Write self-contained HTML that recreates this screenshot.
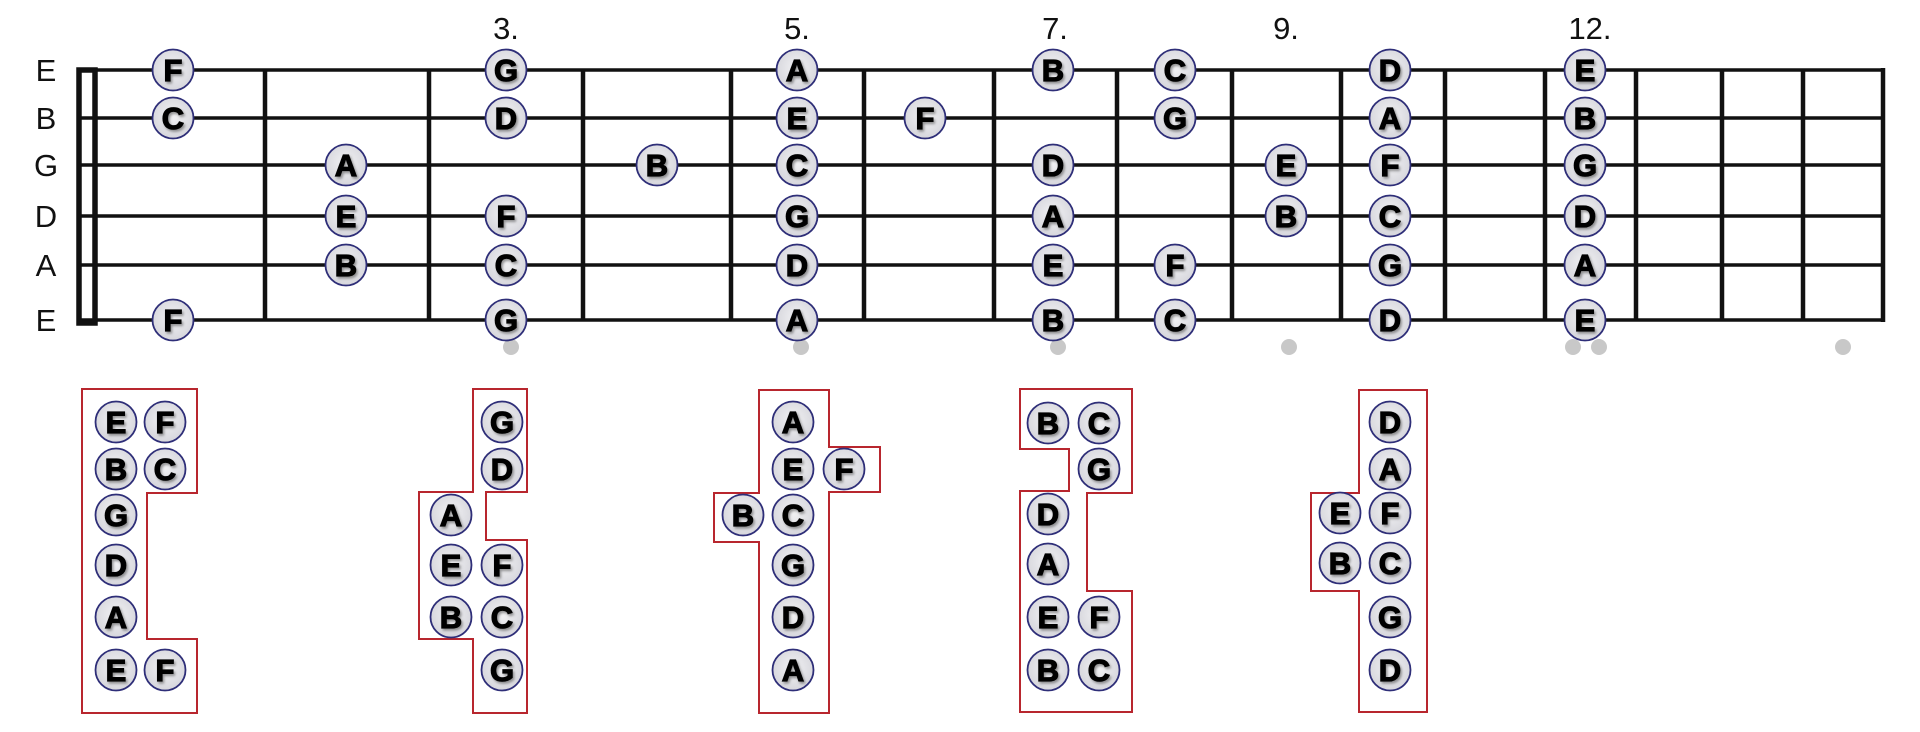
<!DOCTYPE html>
<html><head><meta charset="utf-8"><style>
html,body{margin:0;padding:0;background:#fff;}
svg{display:block;}
.lbl{font-family:"Liberation Sans",Arial,sans-serif;font-size:31px;fill:#111;}
.n{font-family:"Liberation Sans",Arial,sans-serif;font-weight:bold;font-size:31px;fill:#000;stroke:#000;stroke-width:1.2;text-anchor:middle;}
</style></head><body>
<svg width="1920" height="732" viewBox="0 0 1920 732" xmlns="http://www.w3.org/2000/svg">
<defs>
<radialGradient id="g" cx="50%" cy="45%" r="55%"><stop offset="0" stop-color="#f2f2f4"/><stop offset="1" stop-color="#d6d6dc"/></radialGradient>
<filter id="sh" x="-30%" y="-30%" width="160%" height="160%"><feDropShadow dx="1.5" dy="2" stdDeviation="1.2" flood-color="#555" flood-opacity="0.6"/></filter>
</defs>
<g class="lbl" text-anchor="middle">
<text x="46" y="81">E</text><text x="46" y="129">B</text><text x="46" y="176">G</text>
<text x="46" y="227">D</text><text x="46" y="276">A</text><text x="46" y="331">E</text>
</g>
<g class="lbl" text-anchor="middle">
<text x="506" y="39">3.</text><text x="797" y="39">5.</text><text x="1055" y="39">7.</text>
<text x="1286" y="39">9.</text><text x="1590" y="39">12.</text>
</g>
<g stroke="#111" stroke-width="3.5">
<line x1="78" y1="70" x2="1883" y2="70"/><line x1="78" y1="118" x2="1883" y2="118"/>
<line x1="78" y1="165" x2="1883" y2="165"/><line x1="78" y1="216" x2="1883" y2="216"/>
<line x1="78" y1="265" x2="1883" y2="265"/><line x1="78" y1="320" x2="1883" y2="320"/>
</g>
<rect x="79" y="70" width="16" height="253" fill="none" stroke="#111" stroke-width="5.5"/>
<g stroke="#111" stroke-width="4.5">
<line x1="265" y1="70" x2="265" y2="320"/><line x1="429" y1="70" x2="429" y2="320"/>
<line x1="583" y1="70" x2="583" y2="320"/><line x1="731" y1="70" x2="731" y2="320"/>
<line x1="864" y1="70" x2="864" y2="320"/><line x1="994" y1="70" x2="994" y2="320"/>
<line x1="1117" y1="70" x2="1117" y2="320"/><line x1="1232" y1="70" x2="1232" y2="320"/>
<line x1="1341" y1="70" x2="1341" y2="320"/><line x1="1445" y1="70" x2="1445" y2="320"/>
<line x1="1545" y1="70" x2="1545" y2="320"/><line x1="1636" y1="70" x2="1636" y2="320"/>
<line x1="1722" y1="70" x2="1722" y2="320"/><line x1="1803" y1="70" x2="1803" y2="320"/>
<line x1="1883" y1="68" x2="1883" y2="322"/>
</g>
<g fill="#c8c8c8">
<circle cx="511" cy="347" r="8"/><circle cx="801" cy="347" r="8"/><circle cx="1058" cy="347" r="8"/>
<circle cx="1289" cy="347" r="8"/><circle cx="1573" cy="347" r="8"/><circle cx="1599" cy="347" r="8"/>
<circle cx="1843" cy="347" r="8"/>
</g>
<g fill="none" stroke="#b8262e" stroke-width="2">
<polygon points="82,389 197,389 197,493 147,493 147,639 197,639 197,713 82,713"/>
<polygon points="473,389 527,389 527,492 486,492 486,540 527,540 527,713 473,713 473,639 419,639 419,492 473,492"/>
<polygon points="759,390 829,390 829,447 880,447 880,492 829,492 829,713 759,713 759,542 714,542 714,493 759,493"/>
<polygon points="1020,389 1132,389 1132,493 1087,493 1087,591 1132,591 1132,712 1020,712 1020,491 1069,491 1069,449 1020,449"/>
<polygon points="1359,390 1427,390 1427,712 1359,712 1359,591 1311,591 1311,493 1359,493"/>
</g>
<g id="notes"></g>
</svg>
<script>
var N=[
[173,70,'F'],[173,118,'C'],[173,320,'F'],
[346,165,'A'],[346,216,'E'],[346,265,'B'],
[506,70,'G'],[506,118,'D'],[506,216,'F'],[506,265,'C'],[506,320,'G'],
[657,165,'B'],
[797,70,'A'],[797,118,'E'],[797,165,'C'],[797,216,'G'],[797,265,'D'],[797,320,'A'],
[925,118,'F'],
[1053,70,'B'],[1053,165,'D'],[1053,216,'A'],[1053,265,'E'],[1053,320,'B'],
[1175,70,'C'],[1175,118,'G'],[1175,265,'F'],[1175,320,'C'],
[1286,165,'E'],[1286,216,'B'],
[1390,70,'D'],[1390,118,'A'],[1390,165,'F'],[1390,216,'C'],[1390,265,'G'],[1390,320,'D'],
[1585,70,'E'],[1585,118,'B'],[1585,165,'G'],[1585,216,'D'],[1585,265,'A'],[1585,320,'E'],
[116,422,'E'],[165,422,'F'],[116,469,'B'],[165,469,'C'],[116,515,'G'],[116,565,'D'],[116,617,'A'],[116,670,'E'],[165,670,'F'],
[502,422,'G'],[502,469,'D'],[451,515,'A'],[451,565,'E'],[502,565,'F'],[451,617,'B'],[502,617,'C'],[502,670,'G'],
[793,422,'A'],[793,469,'E'],[844,469,'F'],[743,515,'B'],[793,515,'C'],[793,565,'G'],[793,617,'D'],[793,670,'A'],
[1048,423,'B'],[1099,423,'C'],[1099,469,'G'],[1048,514,'D'],[1048,564,'A'],[1048,617,'E'],[1099,617,'F'],[1048,670,'B'],[1099,670,'C'],
[1390,422,'D'],[1390,469,'A'],[1340,513,'E'],[1390,513,'F'],[1340,563,'B'],[1390,563,'C'],[1390,617,'G'],[1390,670,'D']
];
var g=document.getElementById('notes'),s='';
N.forEach(function(n){
s+='<circle cx="'+n[0]+'" cy="'+n[1]+'" r="20.5" fill="url(#g)" stroke="#2e2e78" stroke-width="1.8"/>';
s+='<text class="n" filter="url(#sh)" x="'+n[0]+'" y="'+(n[1]+11)+'">'+n[2]+'</text>';
});
g.innerHTML=s;
</script>
</body></html>
